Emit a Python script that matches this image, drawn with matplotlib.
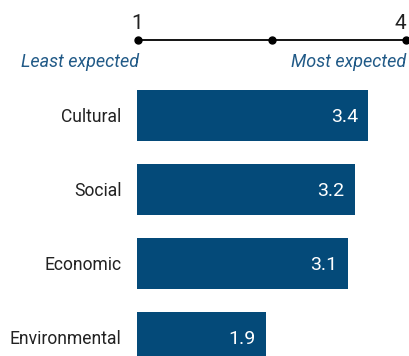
import matplotlib
matplotlib.use("Agg")
import matplotlib.pyplot as plt

categories = ["Cultural", "Social", "Economic", "Environmental"]
values = [3.4, 3.2, 3.1, 1.9]
value_labels = ["3.4", "3.2", "3.1", "1.9"]
scale_ticks = [1, 4]
scale_dots = [1, 2.5, 4]
scale_low_label = "Least expected"
scale_high_label = "Most expected"

plt.rcParams["font.family"] = ["Roboto", "DejaVu Sans"]

BAR = "#044a79"
LABEL_BLUE = "#215a87"
DARK = "#222222"
W, H = 410, 356

fig = plt.figure(figsize=(W / 100, H / 100), dpi=100)
renderer = fig.canvas.get_renderer()


def fit_size(text, width_px, **kw):
    """Font size (pt) at which `text` spans width_px pixels."""
    t = fig.text(0, 0, text, fontsize=10, **kw)
    w = t.get_window_extent(renderer).width
    t.remove()
    return 10 * width_px / w


cat_size = fit_size("Environmental", 112)
ital_size = fit_size(scale_low_label, 118, style="italic")
num_size = fit_size("3.4", 27)

# bar panel: value 0 at x=137 px, 68 px per unit
ax = fig.add_axes([137 / W, 0, 272 / W, 1])
ypos = list(range(len(categories)))
ax.barh(ypos, values, height=51 / 74, color=BAR)
ax.set_xlim(0, 4)
ax.set_ylim((356 - 115.5) / 74, -115.5 / 74)
ax.set_yticks(ypos)
ax.set_yticklabels(categories, fontsize=cat_size, color=DARK)
ax.tick_params(axis="y", length=0, pad=11)
ax.set_xticks([])
for s in ax.spines.values():
    s.set_visible(False)
for y, v, lab in zip(ypos, values, value_labels):
    ax.text(v - 0.15, y + 0.02, lab, ha="right", va="center", color="white",
            fontsize=num_size)

# expectation scale above the bars
sax = fig.add_axes([138 / W, 1 - 80 / H, (406 - 138) / W, 80 / H])
sax.set_xlim(1, 4)
sax.set_ylim(80, 0)
sax.axis("off")
sax.plot([scale_dots[0], scale_dots[-1]], [40, 40], color="black", lw=1.3,
         clip_on=False)
sax.plot(scale_dots, [40] * len(scale_dots), "o", color="black", ms=5,
         clip_on=False)
sax.text(scale_ticks[0] - 0.005, 29, str(scale_ticks[0]), ha="center",
         va="baseline", fontsize=num_size + 1, color=DARK, clip_on=False)
sax.text(scale_ticks[1] + 0.005, 29, str(scale_ticks[1]), ha="right",
         va="baseline", fontsize=num_size + 1, color=DARK, clip_on=False)
sax.text(1.01, 67, scale_low_label, ha="right", va="baseline", style="italic",
         fontsize=ital_size, color=LABEL_BLUE, clip_on=False)
sax.text(4.005, 67, scale_high_label, ha="right", va="baseline",
         style="italic", fontsize=ital_size, color=LABEL_BLUE, clip_on=False)

fig.savefig("out.png", dpi=100)
